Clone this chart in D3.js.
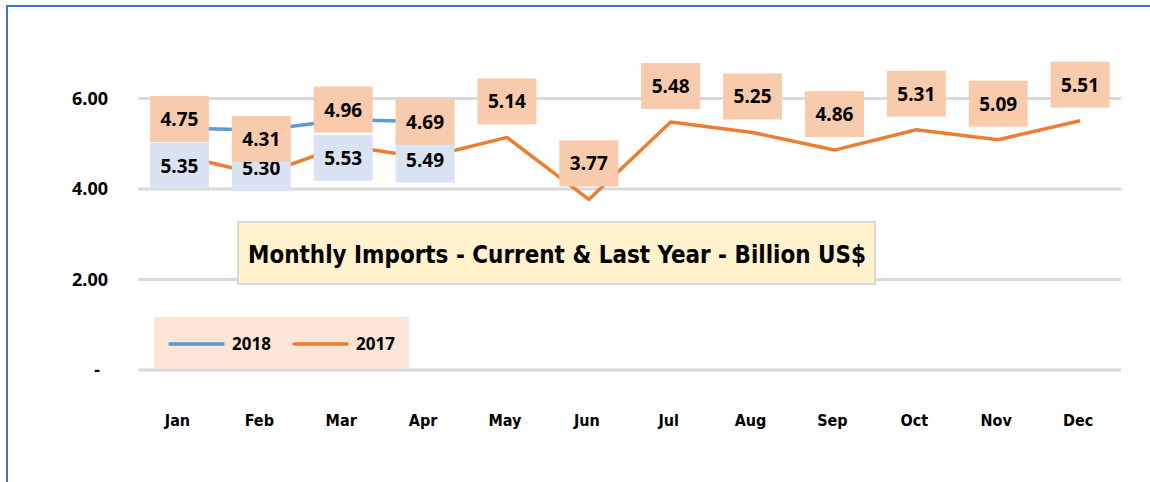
<!DOCTYPE html>
<html>
<head>
<meta charset="utf-8">
<script src="https://cdn.jsdelivr.net/npm/d3@7"></script>
<style>
  html, body { margin: 0; padding: 0; background: #fff; }
  svg { display: block; }
  .num { font-family: "Noto Sans", sans-serif; font-weight: 700; fill: #000; }
  .cond { font-family: "DejaVu Sans Condensed", "DejaVu Sans", sans-serif; font-stretch: condensed; font-weight: 700; fill: #000; }
</style>
</head>
<body>
<div id="chart"></div>
<script>
// data
const months = ["Jan", "Feb", "Mar", "Apr", "May", "Jun", "Jul", "Aug", "Sep", "Oct", "Nov", "Dec"];
const imports2018 = [5.35, 5.30, 5.53, 5.49];
const imports2017 = [4.75, 4.31, 4.96, 4.69, 5.14, 3.77, 5.48, 5.25, 4.86, 5.31, 5.09, 5.51];
const yTicks = [0, 2, 4, 6];
const chartTitle = "Monthly Imports - Current & Last Year - Billion US$";

const W = 1150, H = 482;
const svg = d3.select("#chart").append("svg")
  .attr("width", W).attr("height", H);

// outer frame
svg.append("rect")
  .attr("x", 7).attr("y", 6).attr("width", W + 20).attr("height", H + 20)
  .attr("fill", "none").attr("stroke", "#4472C4").attr("stroke-width", 2);

const x = d3.scaleBand().domain(months).range([138.5, 1121]);
const cx = m => x(m) + x.bandwidth() / 2;
const y = d3.scaleLinear().domain([0, 6]).range([370, 98.5]);

// gridlines
svg.append("g").selectAll("line")
  .data(yTicks).enter().append("line")
  .attr("x1", 138.5).attr("x2", 1121)
  .attr("y1", d => y(d)).attr("y2", d => y(d))
  .attr("stroke", "#D9D9D9").attr("stroke-width", 3);

// y tick labels
svg.append("g").selectAll("text")
  .data(yTicks).enter().append("text")
  .attr("class", "num")
  .attr("x", d => d === 0 ? 100 : 108)
  .attr("y", d => y(d) + 6)
  .attr("text-anchor", "end")
  .attr("font-size", 18)
  .text(d => d === 0 ? "-" : d.toFixed(2));

// x labels
svg.append("g").selectAll("text")
  .data(months).enter().append("text")
  .attr("class", "cond")
  .attr("x", d => cx(d) - 2)
  .attr("y", 426)
  .attr("text-anchor", "middle")
  .attr("font-size", 16)
  .text(d => d);

// title box
svg.append("rect")
  .attr("x", 238).attr("y", 222).attr("width", 637).attr("height", 62)
  .attr("fill", "#FFF2CC").attr("stroke", "#D9D9D9").attr("stroke-width", 2);
svg.append("text")
  .attr("class", "cond")
  .attr("x", 248).attr("y", 263)
  .attr("font-size", 25)
  .attr("textLength", 618).attr("lengthAdjust", "spacingAndGlyphs")
  .text(chartTitle);

// legend
const legend = svg.append("g");
legend.append("rect")
  .attr("x", 154).attr("y", 317).attr("width", 255).attr("height", 52)
  .attr("fill", "#FBE5D6");
const legendItems = [
  { name: "2018", color: "#5B9BD5", x: 170 },
  { name: "2017", color: "#ED7D31", x: 294 }
];
legendItems.forEach(it => {
  legend.append("line")
    .attr("x1", it.x).attr("x2", it.x + 53)
    .attr("y1", 344).attr("y2", 344)
    .attr("stroke", it.color).attr("stroke-width", 3.5).attr("stroke-linecap", "round");
  legend.append("text")
    .attr("class", "num")
    .attr("x", it.x + 62).attr("y", 350)
    .attr("font-size", 17)
    .text(it.name);
});

// lines
const line = d3.line()
  .x((d, i) => cx(months[i]))
  .y(d => y(d));

svg.append("path")
  .datum(imports2018)
  .attr("d", line)
  .attr("fill", "none").attr("stroke", "#5B9BD5").attr("stroke-width", 3.5)
  .attr("stroke-linejoin", "round");

svg.append("path")
  .datum(imports2017)
  .attr("d", line)
  .attr("fill", "none").attr("stroke", "#ED7D31").attr("stroke-width", 3.5)
  .attr("stroke-linejoin", "round");

// data labels
function addLabels(values, fill, dy) {
  const g = svg.append("g").selectAll("g")
    .data(values).enter().append("g")
    .attr("transform", (d, i) => `translate(${cx(months[i])},${y(d) + dy})`);
  g.append("rect")
    .attr("x", -29.5).attr("y", -23).attr("width", 59).attr("height", 46)
    .attr("fill", fill);
  g.append("text")
    .attr("class", "num")
    .attr("y", 7)
    .attr("text-anchor", "middle")
    .attr("font-size", 19)
    .text(d => d.toFixed(2));
}
addLabels(imports2018, "#DAE3F3", 38);
addLabels(imports2017, "#F8CBAD", -36);
</script>
</body>
</html>
